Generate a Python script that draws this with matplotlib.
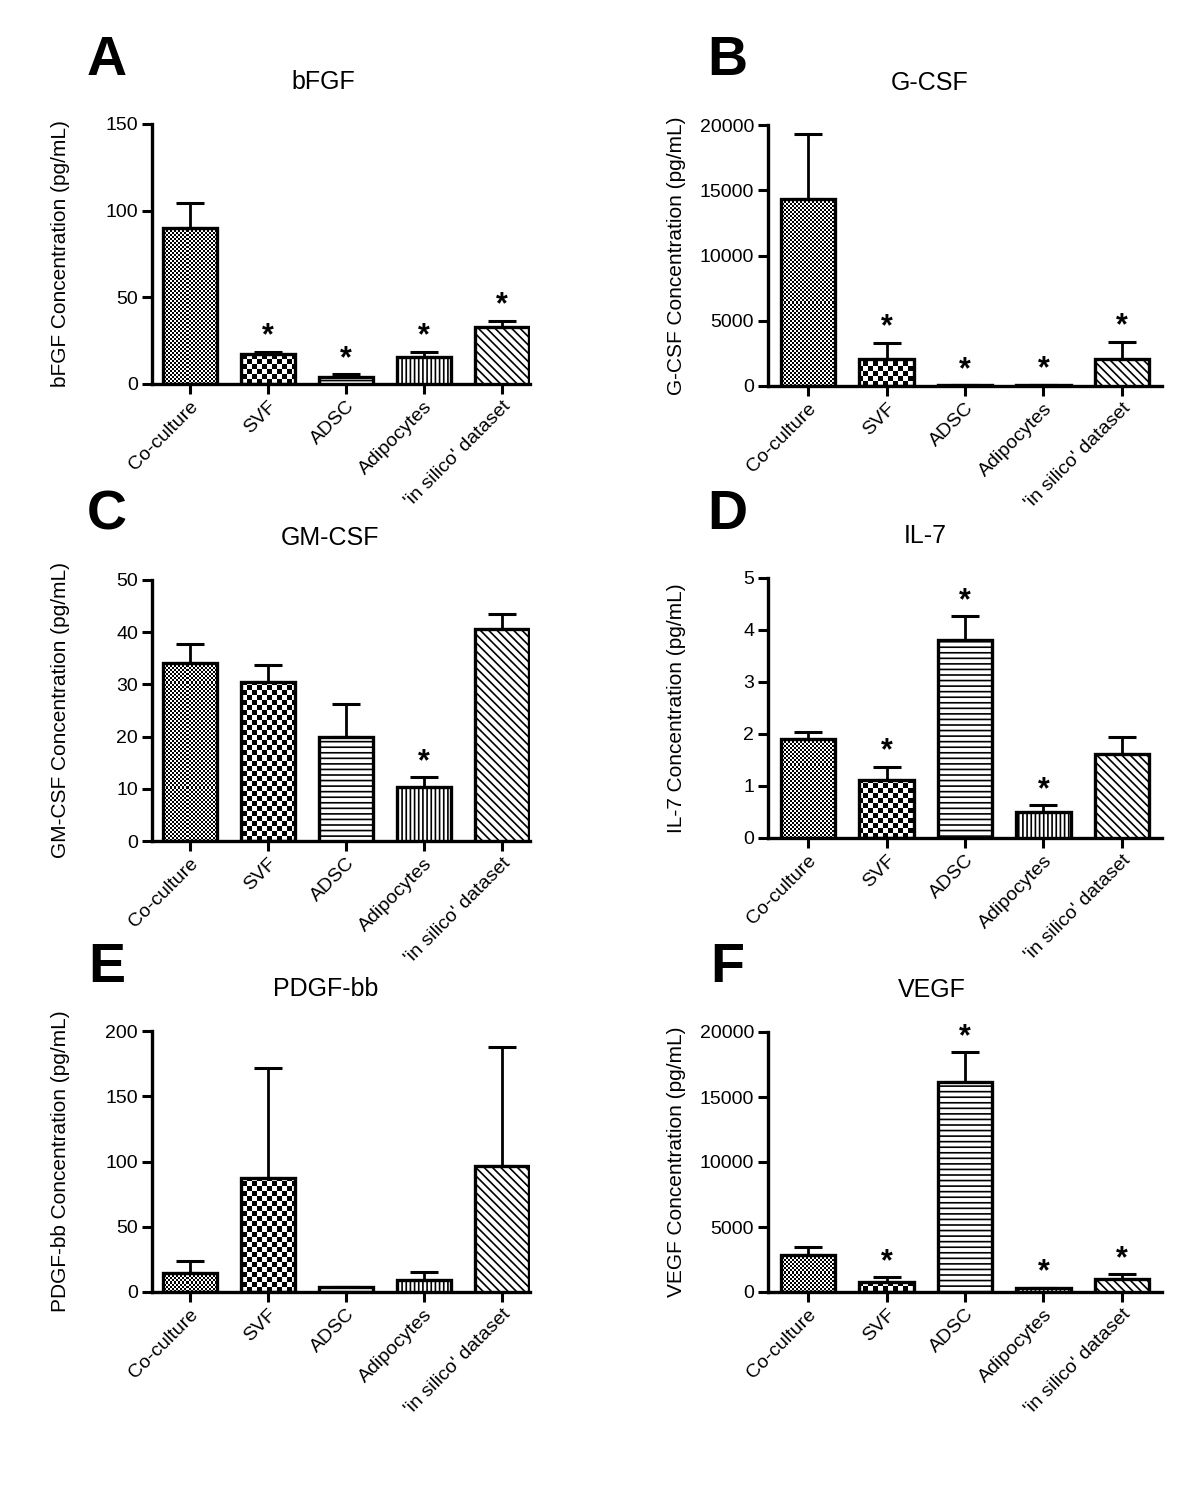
import numpy as np
import matplotlib.pyplot as plt

plt.rcParams['font.family'] = ['Liberation Sans', 'DejaVu Sans']
plt.rcParams['hatch.linewidth'] = 1.2

# groups on the x axis
categories = ["Co-culture", "SVF", "ADSC", "Adipocytes", "'in silico' dataset"]

# mean and SEM (upper error only), pg/mL
bfgf_mean = [90, 17.3, 4, 15.6, 33]
bfgf_sem = [14.5, 1.2, 1.5, 2.9, 3.4]
bfgf_sig = [False, True, True, True, True]

gcsf_mean = [14300, 2050, 40, 80, 2100]
gcsf_sem = [5000, 1250, 0, 0, 1300]
gcsf_sig = [False, True, True, True, True]

gmcsf_mean = [34.1, 30.4, 19.9, 10.4, 40.6]
gmcsf_sem = [3.7, 3.4, 6.3, 1.8, 2.9]
gmcsf_sig = [False, False, False, True, False]

il7_mean = [1.91, 1.11, 3.81, 0.50, 1.61]
il7_sem = [0.13, 0.26, 0.45, 0.13, 0.34]
il7_sig = [False, True, True, True, False]

pdgf_mean = [14.6, 87, 3.5, 9.2, 96.5]
pdgf_sem = [9.2, 85, 0.3, 6.1, 91]
pdgf_sig = [False, False, False, False, False]

vegf_mean = [2850, 770, 16150, 280, 1000]
vegf_sem = [610, 380, 2300, 60, 380]
vegf_sig = [False, True, True, True, True]

# fill style of each group
fills = ['fine', 'coarse', '---', '||||', '\\\\\\\\']

fig = plt.figure(figsize=(12, 14.93), dpi=100)
W, H = 1200, 1493


def add_axes_px(left, top, right, bottom):
    return fig.add_axes([left / W, 1 - bottom / H, (right - left) / W, (bottom - top) / H])


def draw_panel(ax, means, sems, sig, ymax, ystep, title, ylabel, xlim, title_x):
    x = np.arange(len(categories))
    ax.set_xlim(*xlim)
    ax.set_ylim(0, ymax)
    bars = ax.bar(x, means, width=0.7, facecolor='white', edgecolor='black',
                  linewidth=2.4, zorder=3)
    w_px, h_px = ax.bbox.width, ax.bbox.height
    for bar, style in zip(bars, fills):
        if style in ('fine', 'coarse'):
            cell = 2 if style == 'fine' else 5
            nr, nc = int(round(h_px / cell)), int(round(w_px / cell))
            checker = np.add.outer(np.arange(nr), np.arange(nc)) % 2
            bar.set_facecolor('none')
            im = ax.imshow(checker, cmap='gray', vmin=0, vmax=1, aspect='auto',
                           extent=[xlim[0], xlim[1], 0, ymax],
                           interpolation='nearest', zorder=2)
            im.set_clip_path(bar)
        else:
            bar.set_hatch(style)
    ax.set_xlim(*xlim)
    ax.set_ylim(0, ymax)

    ax.errorbar(x, means, yerr=[np.zeros(len(x)), sems], fmt='none', ecolor='black',
                elinewidth=2, capsize=10, capthick=2.2, zorder=2.5)
    for xi, m, s, star in zip(x, means, sems, sig):
        if star:
            ax.annotate('*', xy=(xi, m + s), xytext=(0, 11), textcoords='offset points',
                        ha='center', va='center', fontsize=22, fontweight='bold')

    ax.set_yticks(np.arange(0, ymax + ystep / 2, ystep))
    ax.set_xticks(x)
    ax.set_xticklabels(categories, rotation=45, ha='right', va='top',
                       rotation_mode='anchor')
    ax.tick_params(length=7, width=2.2, labelsize=14, pad=3)
    for side in ('top', 'right'):
        ax.spines[side].set_visible(False)
    for side in ('left', 'bottom'):
        ax.spines[side].set_linewidth(2.4)
    ax.set_ylabel(ylabel, fontsize=15)
    # label sits a fixed distance left of the y axis
    ax.yaxis.set_label_coords(-82 / w_px, 0.5)
    ax.text(title_x, 1.16, title, transform=ax.transAxes, ha='center', va='center',
            fontsize=18)


left_lim = (-0.487, 4.36)
right_lim = (-0.51, 4.51)

axA = add_axes_px(152, 124, 530, 384)
draw_panel(axA, bfgf_mean, bfgf_sem, bfgf_sig, 150, 50, 'bFGF',
           'bFGF Concentration (pg/mL)', left_lim, 0.452)
axB = add_axes_px(768, 125, 1162, 386)
draw_panel(axB, gcsf_mean, gcsf_sem, gcsf_sig, 20000, 5000, 'G-CSF',
           'G-CSF Concentration (pg/mL)', right_lim, 0.41)
axC = add_axes_px(152, 580, 530, 841)
draw_panel(axC, gmcsf_mean, gmcsf_sem, gmcsf_sig, 50, 10, 'GM-CSF',
           'GM-CSF Concentration (pg/mL)', left_lim, 0.47)
axD = add_axes_px(768, 578, 1162, 838)
draw_panel(axD, il7_mean, il7_sem, il7_sig, 5, 1, 'IL-7',
           'IL-7 Concentration (pg/mL)', right_lim, 0.40)
axE = add_axes_px(152, 1031, 530, 1292)
draw_panel(axE, pdgf_mean, pdgf_sem, pdgf_sig, 200, 50, 'PDGF-bb',
           'PDGF-bb Concentration (pg/mL)', left_lim, 0.46)
axF = add_axes_px(768, 1032, 1162, 1292)
draw_panel(axF, vegf_mean, vegf_sem, vegf_sig, 20000, 5000, 'VEGF',
           'VEGF Concentration (pg/mL)', right_lim, 0.415)

# panel letters
for letter, px, py in [('A', 107, 61), ('B', 727, 61), ('C', 107, 515),
                       ('D', 727, 515), ('E', 107, 968), ('F', 727, 968)]:
    fig.text(px / W, 1 - py / H, letter, ha='center', va='center',
             fontsize=40, fontweight='bold')

fig.savefig('out.png', dpi=100, facecolor='white')
